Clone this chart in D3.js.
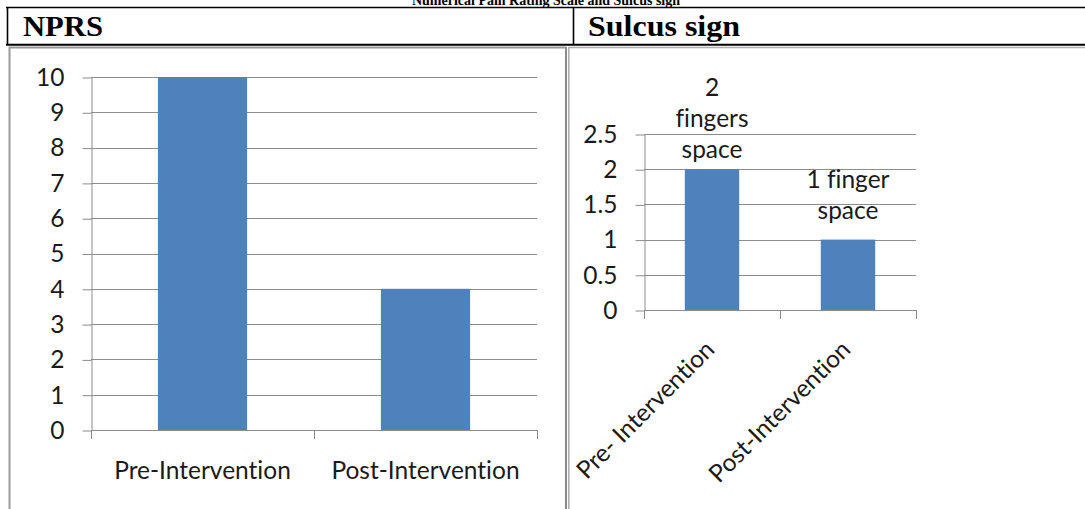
<!DOCTYPE html>
<html>
<head>
<meta charset="utf-8">
<script src="https://cdn.jsdelivr.net/npm/d3@7"></script>
<style>
  html, body { margin: 0; padding: 0; background: #fff; }
  svg { display: block; }
  svg text { font-variant-ligatures: none; font-feature-settings: "liga" 0, "clig" 0; }
</style>
</head>
<body>
<svg id="chart" width="1085" height="509"></svg>
<script>
// ---- data ----
const tableTitle = "Numerical Pain Rating Scale and Sulcus sign";
const panelTitles = ["NPRS", "Sulcus sign"];

const nprsCategories = ["Pre-Intervention", "Post-Intervention"];
const nprsValues = [10, 4];
const nprsTicks = [0, 1, 2, 3, 4, 5, 6, 7, 8, 9, 10];

const sulcusCategories = ["Pre- Intervention", "Post-Intervention"];
const sulcusValues = [2, 1];
const sulcusTicks = [0, 0.5, 1, 1.5, 2, 2.5];
const sulcusLabels = [["2", "fingers", "space"], ["1 finger", "space"]];

// ---- styling ----
const BAR = "#4f81bd";
const GRID = "#8c8c8c";
const INK = "#1a1a1a";
const SANS = "Lato, 'Open Sans', sans-serif";
const SERIF = "'Liberation Serif', 'Times New Roman', serif";
const FS = 24.5;

const svg = d3.select("#chart");

// ---- table frame ----
svg.append("text")
  .attr("x", 546).attr("y", 4.5)
  .attr("text-anchor", "middle")
  .attr("font-family", SERIF).attr("font-weight", "bold").attr("font-size", 14)
  .attr("textLength", 268).attr("lengthAdjust", "spacingAndGlyphs")
  .text(tableTitle);

const frame = svg.append("g").attr("stroke", "#000").attr("fill", "none");
frame.append("line").attr("x1", 6).attr("x2", 1085).attr("y1", 7.5).attr("y2", 7.5).attr("stroke-width", 1.6);
frame.append("line").attr("x1", 6).attr("x2", 1085).attr("y1", 44.8).attr("y2", 44.8).attr("stroke-width", 2);
frame.append("line").attr("x1", 7.5).attr("x2", 7.5).attr("y1", 7).attr("y2", 45).attr("stroke-width", 1.6);
frame.append("line").attr("x1", 573.5).attr("x2", 573.5).attr("y1", 7).attr("y2", 45).attr("stroke-width", 1.6);

const heads = [
  { x: 23, w: 80 },
  { x: 588, w: 152 }
];
svg.selectAll("text.head").data(panelTitles).join("text")
  .attr("class", "head")
  .attr("x", (d, i) => heads[i].x).attr("y", 36)
  .attr("font-family", SERIF).attr("font-weight", "bold").attr("font-size", 30)
  .attr("textLength", (d, i) => heads[i].w).attr("lengthAdjust", "spacingAndGlyphs")
  .text(d => d);

// chart cell borders (grey frames of the embedded charts)
const cells = svg.append("g").attr("fill", "none");
cells.append("path").attr("d", "M9.5,512 V47.5 H566")
  .attr("stroke", "#9a9a9a").attr("stroke-width", 2);
cells.append("line").attr("x1", 566).attr("x2", 566).attr("y1", 47).attr("y2", 512)
  .attr("stroke", "#8a8a8a").attr("stroke-width", 2);
cells.append("path").attr("d", "M568.8,512 V47.5 H1090")
  .attr("stroke", "#b0b0b0").attr("stroke-width", 1.6);

// ---- generic Excel-style column chart ----
function columnChart(opts) {
  const { cats, vals, ticks, x0, x1, yTop, yBottom, yMax, tickFmt } = opts;
  const g = svg.append("g");
  const x = d3.scaleBand().domain(cats).range([x0, x1]).padding(0);
  const y = d3.scaleLinear().domain([0, yMax]).range([yBottom, yTop]);

  // gridlines
  g.append("g").selectAll("line").data(ticks).join("line")
    .attr("x1", x0).attr("x2", x1)
    .attr("y1", d => Math.round(y(d)) + 0.5).attr("y2", d => Math.round(y(d)) + 0.5)
    .attr("stroke", GRID).attr("stroke-width", 1);

  // bars
  const bw = x.bandwidth() * 0.4;
  g.append("g").selectAll("rect").data(vals).join("rect")
    .attr("x", (d, i) => x(cats[i]) + (x.bandwidth() - bw) / 2)
    .attr("width", bw)
    .attr("y", d => y(d))
    .attr("height", d => y(0) - y(d))
    .attr("fill", BAR);

  // value axis
  const ya = g.append("g").attr("transform", `translate(${Math.round(x0) + 0.5},0.5)`)
    .call(d3.axisLeft(y).tickValues(ticks).tickFormat(tickFmt)
      .tickSizeInner(9).tickSizeOuter(0).tickPadding(18));
  ya.select(".domain").attr("stroke", GRID);
  ya.selectAll(".tick line").attr("stroke", GRID);
  ya.selectAll("text").attr("font-family", SANS).attr("font-size", FS).attr("fill", INK);

  // category axis ticks at band boundaries
  const bounds = cats.map(c => x(c)).concat([x1]);
  g.append("g").selectAll("line").data(bounds).join("line")
    .attr("x1", d => Math.round(d) + 0.5).attr("x2", d => Math.round(d) + 0.5)
    .attr("y1", Math.round(y(0))).attr("y2", Math.round(y(0)) + 9)
    .attr("stroke", GRID);

  return { g, x, y, bw };
}

// ---- NPRS chart ----
const left = columnChart({
  cats: nprsCategories, vals: nprsValues, ticks: nprsTicks,
  x0: 91, x1: 537, yTop: 77, yBottom: 430, yMax: 10, tickFmt: d3.format("d")
});
left.g.append("g").selectAll("text").data(nprsCategories).join("text")
  .attr("x", d => left.x(d) + left.x.bandwidth() / 2)
  .attr("y", 479)
  .attr("text-anchor", "middle")
  .attr("font-family", SANS).attr("font-size", FS).attr("fill", INK)
  .text(d => d);

// ---- Sulcus sign chart ----
const right = columnChart({
  cats: sulcusCategories, vals: sulcusValues, ticks: sulcusTicks,
  x0: 644, x1: 916, yTop: 134, yBottom: 310, yMax: 2.5, tickFmt: d => d3.format("")(d)
});

// rotated category labels
right.g.append("g").selectAll("text").data(sulcusCategories).join("text")
  .attr("transform", d => `translate(${right.x(d) + right.x.bandwidth() / 2 + 4},351) rotate(-45)`)
  .attr("text-anchor", "end")
  .attr("font-family", SANS).attr("font-size", FS).attr("fill", INK)
  .text(d => d);

// data labels above the bars
const labelLift = [11, 21];
const lineGap = 31;
right.g.append("g").selectAll("text").data(sulcusLabels).join("text")
  .attr("text-anchor", "middle")
  .attr("font-family", SANS).attr("font-size", FS).attr("fill", INK)
  .each(function (lines, i) {
    const cx = right.x(sulcusCategories[i]) + right.x.bandwidth() / 2;
    const base = right.y(sulcusValues[i]) - labelLift[i];
    d3.select(this).selectAll("tspan").data(lines).join("tspan")
      .attr("x", cx)
      .attr("y", (d, k) => base - (lines.length - 1 - k) * lineGap)
      .text(d => d);
  });
</script>
</body>
</html>
